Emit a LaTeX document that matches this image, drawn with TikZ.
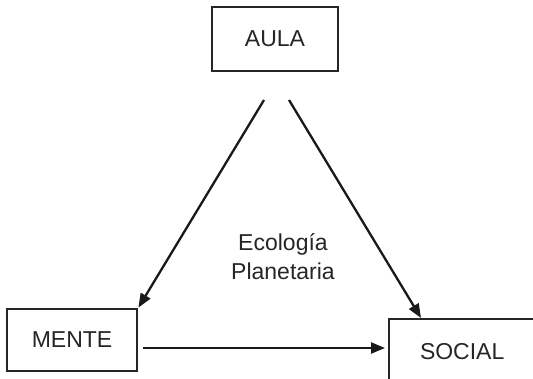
\documentclass[tikz,border=0pt]{standalone}
\usepackage{fontspec}
\setmainfont{Liberation Sans}
\usetikzlibrary{arrows.meta}
\begin{document}
\begin{tikzpicture}[x=1pt,y=-1pt,
  box/.style={draw=black!85,line width=2.8pt,minimum width=#1,inner sep=0pt},
  lbl/.style={font=\fontsize{23}{29}\selectfont,text=black!85},
  link/.style={line width=2.3pt,draw=black!90,-{Triangle[length=14pt,width=11pt]}}]
\useasboundingbox (0,0) rectangle (533,379);
\clip (0,0) rectangle (533,379);
\fill[white] (0,0) rectangle (533,379);
% the three boxes
\node[box=126pt,minimum height=64pt,lbl] (aula) at (275,39) {AULA};
\node[box=130pt,minimum height=62pt,lbl] (mente) at (72,340) {MENTE};
\node[box=170pt,minimum height=66pt,lbl,text width=168pt,align=left] (social) at (474,352) {\hspace*{30pt}SOCIAL};
% centre label
\node[lbl,align=center] (eco) at (283,257) {Ecología\\Planetaria};
% connector end points
\coordinate (aL) at (264,100);
\coordinate (aR) at (289,100);
\coordinate (mR) at (143,348);
\coordinate (sT) at (421,318);
\coordinate (sL) at (385,348);
% connectors
\draw[link] (aL) -- (mente.north east);
\draw[link] (aR) -- (sT);
\draw[link] (mR) -- (sL);
\end{tikzpicture}
\end{document}
